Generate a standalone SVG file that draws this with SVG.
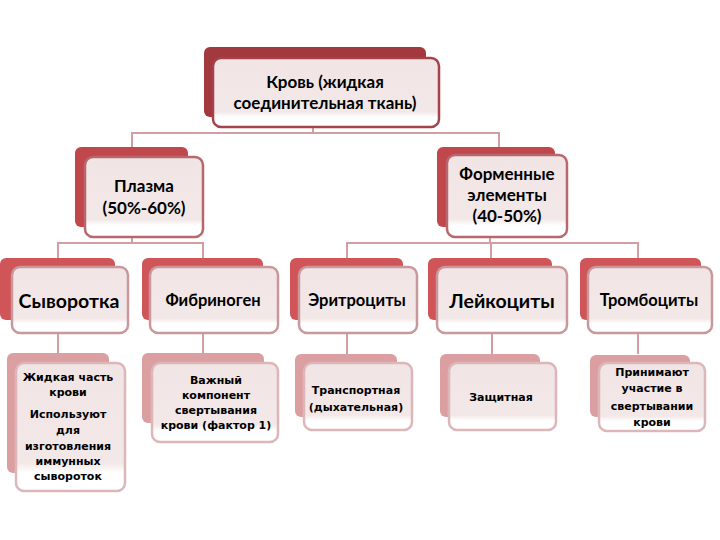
<svg xmlns="http://www.w3.org/2000/svg" width="720" height="540" viewBox="0 0 720 540">
<defs>
<linearGradient id="g" x1="0" y1="0" x2="0" y2="1">
<stop offset="0" stop-color="#f1e4e4"/>
<stop offset="0.78" stop-color="#f3e8e8"/>
<stop offset="0.86" stop-color="#ffffff"/>
<stop offset="1" stop-color="#ffffff"/>
</linearGradient>
<style>
.b1{fill:#a2393e}
.b2{fill:#c0474b}
.b3{fill:#cf5558}
.b4{fill:#dc9fa1}
.f{fill:url(#g);stroke-width:2.5}
.f1{stroke:#a5424a}
.f2{stroke:#b8686d}
.f3{stroke:#c9989c}
.f4{stroke:#dcb6b8}
.c line{stroke:#d29ea1;stroke-width:2}
text{font-family:Lato,"Open Sans","Noto Sans",sans-serif;font-weight:bold;fill:#000;text-anchor:middle}
.t1{font-size:17px}
.t3{font-size:16.5px}
.tb{font-size:19.5px}
.t4{font-size:11px;font-family:"DejaVu Sans",Verdana,sans-serif}
</style>
</defs>
<rect width="720" height="540" fill="#fff"/>
<g class="c">
<line x1="313" y1="127" x2="313" y2="133"/>
<line x1="131" y1="133" x2="500" y2="133"/>
<line x1="132" y1="133" x2="132" y2="148"/>
<line x1="499" y1="133" x2="499" y2="148"/>
<line x1="132" y1="237" x2="132" y2="243"/>
<line x1="57" y1="243" x2="204" y2="243"/>
<line x1="58" y1="243" x2="58" y2="259"/>
<line x1="203" y1="243" x2="203" y2="259"/>
<line x1="490" y1="237" x2="490" y2="243"/>
<line x1="346" y1="243" x2="639" y2="243"/>
<line x1="347" y1="243" x2="347" y2="259"/>
<line x1="491" y1="243" x2="491" y2="259"/>
<line x1="638" y1="243" x2="638" y2="259"/>
<line x1="58" y1="333" x2="58" y2="354"/>
<line x1="203" y1="333" x2="203" y2="354"/>
<line x1="347" y1="333" x2="347" y2="354"/>
<line x1="492" y1="333" x2="492" y2="354"/>
<line x1="638" y1="333" x2="638" y2="354"/>
</g>
<g id="n-blood">
<rect class="b1" x="204" y="47" width="222" height="70" rx="6"/>
<rect class="f f1" x="213" y="58" width="226" height="69" rx="8"/>
<text class="t1" x="325" y="88">Кровь (жидкая</text>
<text class="t1" x="325" y="109">соединительная ткань)</text>
</g>
<g id="n-plasma">
<rect class="b2" x="75" y="147" width="113" height="80" rx="6"/>
<rect class="f f2" x="85" y="157" width="118" height="80" rx="8"/>
<text class="t1" x="144" y="192">Плазма</text>
<text class="t1" x="144" y="214">(50%-60%)</text>
</g>
<g id="n-formed">
<rect class="b2" x="437" y="147" width="118" height="80" rx="6"/>
<rect class="f f2" x="447" y="155" width="120" height="82" rx="8"/>
<text class="t1" x="507" y="180">Форменные</text>
<text class="t1" x="507" y="201">элементы</text>
<text class="t1" x="507" y="222">(40-50%)</text>
</g>
<g id="n-serum">
<rect class="b3" x="0" y="258" width="115" height="62" rx="6"/>
<rect class="f f3" x="12" y="267" width="116" height="66" rx="8"/>
<text class="tb" x="69" y="308">Сыворотка</text>
</g>
<g id="n-fibrinogen">
<rect class="b3" x="142" y="258" width="121" height="62" rx="6"/>
<rect class="f f3" x="150" y="267" width="128" height="66" rx="8"/>
<text class="t3" x="213" y="306">Фибриноген</text>
</g>
<g id="n-erythro">
<rect class="b3" x="290" y="258" width="113" height="62" rx="6"/>
<rect class="f f3" x="299" y="267" width="118" height="66" rx="8"/>
<text class="t3" x="357" y="306">Эритроциты</text>
</g>
<g id="n-leuko">
<rect class="b3" x="428" y="258" width="124" height="62" rx="6"/>
<rect class="f f3" x="437" y="267" width="130" height="66" rx="8"/>
<text class="tb" x="502" y="308">Лейкоциты</text>
</g>
<g id="n-thrombo">
<rect class="b3" x="580" y="258" width="121" height="62" rx="6"/>
<rect class="f f3" x="588" y="267" width="124" height="66" rx="8"/>
<text class="t3" x="649" y="306">Тромбоциты</text>
</g>
<g id="d-serum">
<rect class="b4" x="7" y="353" width="102" height="120" rx="6"/>
<rect class="f f4" x="16" y="363" width="109" height="128" rx="8"/>
<text class="t4" x="68" y="381">Жидкая часть</text>
<text class="t4" x="68" y="396">крови</text>
<text class="t4" x="68" y="418">Используют</text>
<text class="t4" x="68" y="434">для</text>
<text class="t4" x="68" y="450">изготовления</text>
<text class="t4" x="68" y="465">иммунных</text>
<text class="t4" x="68" y="480">сывороток</text>
</g>
<g id="d-fibrinogen">
<rect class="b4" x="142" y="353" width="122" height="70" rx="6"/>
<rect class="f f4" x="152" y="363" width="126" height="79" rx="8"/>
<text class="t4" x="216" y="384">Важный</text>
<text class="t4" x="216" y="399">компонент</text>
<text class="t4" x="216" y="414">свертывания</text>
<text class="t4" x="216" y="429">крови (фактор 1)</text>
</g>
<g id="d-erythro">
<rect class="b4" x="295" y="354" width="102" height="63" rx="6"/>
<rect class="f f4" x="304" y="363" width="108" height="67" rx="8"/>
<text class="t4" x="356" y="394">Транспортная</text>
<text class="t4" x="356" y="411">(дыхательная)</text>
</g>
<g id="d-leuko">
<rect class="b4" x="440" y="354" width="100" height="63" rx="6"/>
<rect class="f f4" x="449" y="363" width="107" height="67" rx="8"/>
<text class="t4" x="501" y="401">Защитная</text>
</g>
<g id="d-thrombo">
<rect class="b4" x="590" y="355" width="100" height="62" rx="6"/>
<rect class="f f4" x="599" y="363" width="106" height="68" rx="8"/>
<text class="t4" x="652" y="376">Принимают</text>
<text class="t4" x="652" y="392">участие в</text>
<text class="t4" x="652" y="410">свертывании</text>
<text class="t4" x="652" y="426">крови</text>
</g>
</svg>
